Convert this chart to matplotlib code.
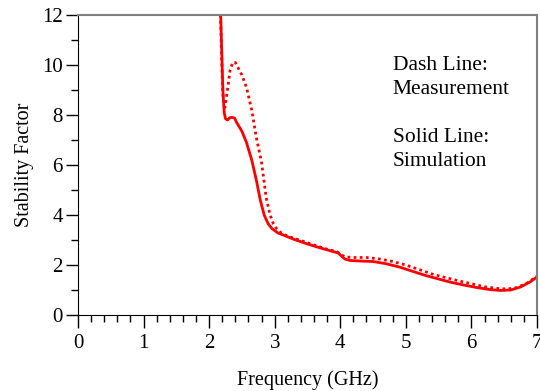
import matplotlib
matplotlib.use('Agg')
import matplotlib.pyplot as plt
from matplotlib.ticker import MultipleLocator

plt.rcParams['font.family'] = ['Liberation Serif', 'DejaVu Serif']

# simulation (solid)
sim_f = [2.17, 2.19, 2.21, 2.23, 2.25, 2.28, 2.32, 2.36, 2.39, 2.42, 2.50, 2.57,
         2.65, 2.72, 2.78, 2.84, 2.90, 2.96, 3.05, 3.15, 3.30, 3.50, 3.70, 3.90,
         3.97, 4.02, 4.07, 4.15, 4.30, 4.50, 4.70, 4.90, 5.10, 5.30, 5.50, 5.70,
         5.90, 6.10, 6.30, 6.45, 6.60, 6.75, 6.90, 7.00]
sim_k = [12.5, 10.8, 9.0, 8.1, 7.85, 7.8, 7.9, 7.9, 7.87, 7.7, 7.35, 6.9,
         6.2, 5.4, 4.6, 4.0, 3.65, 3.45, 3.28, 3.18, 3.02, 2.84, 2.68, 2.53,
         2.48, 2.35, 2.24, 2.18, 2.16, 2.14, 2.05, 1.92, 1.75, 1.58, 1.44, 1.30,
         1.19, 1.09, 1.01, 0.98, 1.00, 1.12, 1.33, 1.52]

# measurement (dotted)
meas_f = [2.17, 2.19, 2.21, 2.24, 2.28, 2.32, 2.36, 2.40, 2.44, 2.50, 2.57, 2.65,
          2.72, 2.80, 2.87, 2.93, 2.98, 3.03, 3.10, 3.20, 3.40, 3.60, 3.80, 3.95,
          4.02, 4.08, 4.20, 4.40, 4.60, 4.80, 5.00, 5.20, 5.40, 5.60, 5.80, 6.00,
          6.20, 6.40, 6.55, 6.70, 6.85, 7.00]
meas_k = [12.5, 10.3, 8.8, 8.3, 9.0, 9.8, 10.1, 10.1, 9.9, 9.6, 9.1, 8.2,
          7.1, 6.1, 4.7, 4.0, 3.65, 3.45, 3.28, 3.15, 2.98, 2.80, 2.63, 2.53,
          2.40, 2.32, 2.30, 2.30, 2.24, 2.14, 2.00, 1.82, 1.64, 1.50, 1.37, 1.25,
          1.13, 1.06, 1.04, 1.10, 1.28, 1.55]

fig = plt.figure(figsize=(5.4, 3.91), dpi=100)
ax = fig.add_axes([0.1444, 0.1944, 0.85, 0.7672])

ax.plot(sim_f, sim_k, color='red', lw=2.0, solid_capstyle='butt')
ax.plot(meas_f, meas_k, color='red', lw=2.0, linestyle=(0, (1, 1.2)))

ax.set_xlim(0, 7)
ax.set_ylim(0, 12)
ax.xaxis.set_major_locator(MultipleLocator(1))
ax.xaxis.set_minor_locator(MultipleLocator(0.2))
ax.yaxis.set_major_locator(MultipleLocator(2))
ax.yaxis.set_minor_locator(MultipleLocator(1))
ax.tick_params(which='major', direction='out', length=9, width=1, labelsize=15)
ax.tick_params(axis='x', which='major', pad=5)
ax.tick_params(axis='y', which='major', pad=2)
ax.tick_params(which='minor', direction='out', length=5, width=1)

for s in ['top', 'right']:
    ax.spines[s].set_color('#808080')
    ax.spines[s].set_linewidth(1.5)

ax.set_xlabel('Frequency (GHz)', fontsize=14.5, labelpad=12)
ax.set_ylabel('Stability Factor', fontsize=14.5, labelpad=6)

ax.text(0.686, 0.793, 'Dash Line:\nMeasurement', transform=ax.transAxes,
        fontsize=15.5, va='center', linespacing=1.35)
ax.text(0.686, 0.553, 'Solid Line:\nSimulation', transform=ax.transAxes,
        fontsize=15.5, va='center', linespacing=1.35)

fig.savefig('out.png', dpi=100)
